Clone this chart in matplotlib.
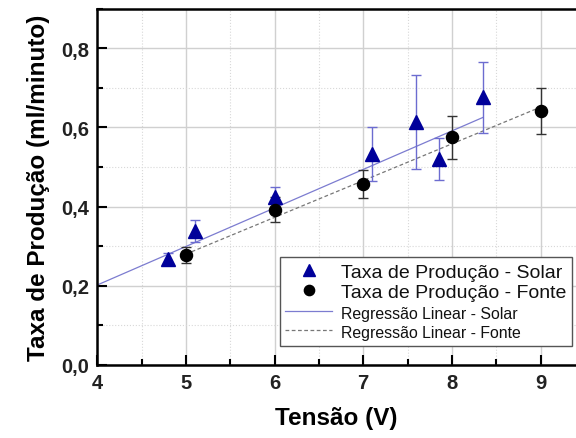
import matplotlib.pyplot as plt
from matplotlib.ticker import MultipleLocator

plt.rcParams['font.family'] = ['Liberation Sans', 'DejaVu Sans']

# Data
solar_x = [4.8, 5.1, 6.0, 7.1, 7.6, 7.85, 8.35]
solar_y = [0.268, 0.339, 0.423, 0.533, 0.614, 0.520, 0.676]
solar_err = [0.016, 0.028, 0.026, 0.068, 0.118, 0.052, 0.090]

fonte_x = [5.0, 6.0, 7.0, 8.0, 9.0]
fonte_y = [0.277, 0.392, 0.457, 0.575, 0.642]
fonte_err = [0.020, 0.032, 0.035, 0.054, 0.058]

# regression lines (end points)
solar_fit_x = [4.0, 8.35]
solar_fit_y = [0.202, 0.625]
fonte_fit_x = [5.0, 9.0]
fonte_fit_y = [0.280, 0.651]

y_ticks = [0.0, 0.2, 0.4, 0.6, 0.8]
y_ticklabels = ['0,0', '0,2', '0,4', '0,6', '0,8']

fig = plt.figure(figsize=(5.76, 4.39), dpi=100)
ax = fig.add_axes([97.3 / 576, 73 / 439, 1 - 97.3 / 576, 356.5 / 439])

# Grid
ax.grid(True, which='major', color='#d0d0d0', linewidth=1.0, zorder=0)
ax.grid(True, which='minor', color='#d8d8d8', linestyle=':', linewidth=0.8, zorder=0)
ax.set_axisbelow(True)

# Regression lines
ax.plot(solar_fit_x, solar_fit_y, color='#7c7cd0', linewidth=0.9, label='Regressão Linear - Solar', zorder=2)
ax.plot(fonte_fit_x, fonte_fit_y, color='#777777', linestyle=(0, (3, 2)), linewidth=0.9,
        label='Regressão Linear - Fonte', zorder=2)

# Error bars
ax.errorbar(solar_x, solar_y, yerr=solar_err, fmt='none', ecolor='#6c6cd0', elinewidth=1.0,
            capsize=3.3, capthick=1.0, zorder=3)
ax.errorbar(fonte_x, fonte_y, yerr=fonte_err, fmt='none', ecolor='#333333', elinewidth=1.0,
            capsize=3.3, capthick=1.0, zorder=3)

# Points
ax.plot(solar_x, solar_y, '^', color='#00009a', markersize=10, linestyle='none',
        label='Taxa de Produção - Solar', zorder=4)
ax.plot(fonte_x, fonte_y, 'o', color='black', markersize=8.7, linestyle='none',
        label='Taxa de Produção - Fonte', zorder=4)

ax.set_xlim(4, 9.4)
ax.set_ylim(0, 0.9)
ax.xaxis.set_major_locator(MultipleLocator(1))
ax.xaxis.set_minor_locator(MultipleLocator(0.5))
ax.set_yticks(y_ticks)
ax.set_yticklabels(y_ticklabels)
ax.yaxis.set_minor_locator(MultipleLocator(0.1))

ax.tick_params(which='both', direction='in', top=False, right=False, width=1.5, color='black')
ax.tick_params(which='major', length=7, labelsize=14.5, labelcolor='#222222')
ax.tick_params(axis='x', which='major', pad=6)
ax.tick_params(axis='y', which='major', pad=6)
ax.tick_params(which='minor', length=4)
for lab in ax.get_xticklabels() + ax.get_yticklabels():
    lab.set_fontweight('bold')

for side in ['left', 'bottom', 'top']:
    ax.spines[side].set_linewidth(1.8)
ax.spines['right'].set_visible(False)

ax.set_xlabel('Tensão (V)', fontsize=17.5, fontweight='bold', labelpad=10)
ax.set_ylabel('Taxa de Produção (ml/minuto)', fontsize=17.5, fontweight='bold', labelpad=8)

# Legend
handles, labels = ax.get_legend_handles_labels()
order = [2, 3, 0, 1]
leg = ax.legend([handles[i] for i in order], [labels[i] for i in order],
                loc='lower right', bbox_to_anchor=(572 / 576, 92 / 439), bbox_transform=fig.transFigure,
                borderaxespad=0, fancybox=False, edgecolor='#555555', framealpha=1, borderpad=0.3,
                fontsize=14, handlelength=2.4, handletextpad=0.45, labelspacing=0.15, markerscale=0.85)
leg.get_frame().set_linewidth(1.0)
for i, txt in enumerate(leg.get_texts()):
    txt.set_fontsize(14 if i < 2 else 11.4)
    txt.set_color('#111111')

plt.savefig('out.png', dpi=100)
